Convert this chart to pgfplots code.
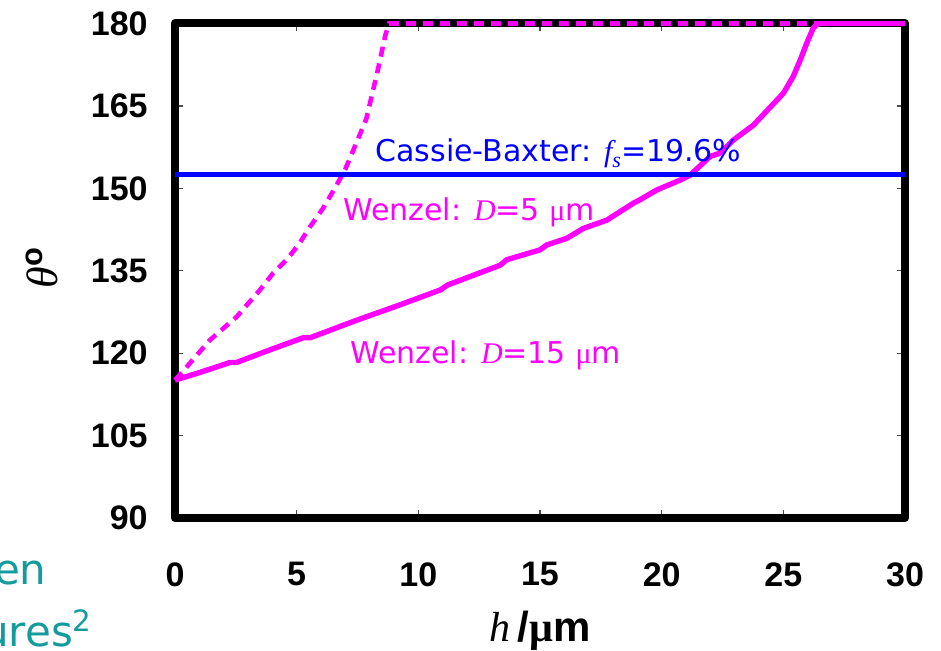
\documentclass[border=0pt]{standalone}
\usepackage{pgfplots}
\pgfplotsset{compat=1.18}
\usepackage{fontspec}
\setmainfont{Liberation Sans}
\newfontfamily\verd{DejaVu Sans}
\newfontfamily\tnr{Liberation Serif}
\definecolor{mag}{RGB}{255,0,255}
\definecolor{teal2}{RGB}{20,155,155}
\begin{document}
\begin{tikzpicture}
\useasboundingbox (-87.5pt,-66.5pt) rectangle (383pt,259pt);
\begin{axis}[
  at={(0,0)}, anchor=south west,
  scale only axis, width=365pt, height=247.25pt,
  xmin=0, xmax=30, ymin=90, ymax=180,
  xtick={0,5,...,30}, ytick={90,105,...,180},
  tick align=inside, major tick length=4pt,
  tick style={black!70, line width=0.6pt},
  axis line style={line width=4pt, black, line join=round},
  clip=false,
  /pgf/number format/assume math mode=true,
  ticklabel style={font=\fontsize{17}{17}\selectfont\bfseries, inner sep=0pt},
  yticklabel style={anchor=east, xshift=-13.5pt},
  xticklabel style={anchor=north, yshift=-22pt},
]
\addplot[mag, line width=2.7pt, line join=round] coordinates {
(0,115.1) (0.89,116.3) (2.26,118.3) (2.53,118.3) (3.9,120.6) (5.27,122.8) (5.55,122.8)
(7.47,126) (9.25,128.8) (10.9,131.5) (11.2,132.4) (13.36,136) (13.63,137) (15.0,138.8)
(15.28,139.7) (16.1,140.9) (16.78,142.7) (17.74,144.2) (18.84,147.3) (19.1,147.9)
(19.8,149.7) (20.76,151.5) (21.17,152.4) (21.99,155.8) (22.4,156.4) (22.95,158.8)
(23.77,161.5) (24.3,164) (25.0,167.3) (25.4,170.3) (25.7,173.4) (25.96,176.4)
(26.23,179.2) (26.43,180) (30,180)
};
\addplot[mag, line width=2.3pt, dash pattern=on 5pt off 3.5pt] coordinates {
(0,115.1) (0.48,117.5) (1.44,122.4) (2.53,126.6) (3.49,131.5) (4.04,134.6) (4.59,137)
(5.07,139.7) (5.55,143) (6.09,146.4) (6.58,150.1) (7.0,153.5) (7.4,157.7) (7.86,162.6)
(8.35,171.8) (8.64,177.8) (8.8,180) (30,180)
};
\addplot[blue, line width=2.2pt] coordinates {(0,152.5) (30,152.5)};
\node[anchor=base west, inner sep=0pt, text=blue, font=\verd\fontsize{15}{15}\selectfont]
  at (axis cs:8.22,154.8) {Cassie-Baxter: {\tnr\itshape f}\raisebox{-0.35ex}{\tnr\itshape\fontsize{11}{11}\selectfont s}=19.6\%};
\node[anchor=base west, inner sep=0pt, text=mag, font=\verd\fontsize{15}{15}\selectfont]
  at (axis cs:6.9,144.2) {Wenzel: {\tnr\itshape D}=5 {\tnr μ}m};
\node[anchor=base west, inner sep=0pt, text=mag, font=\verd\fontsize{15}{15}\selectfont]
  at (axis cs:7.19,118.2) {Wenzel: {\tnr\itshape D}=15 {\tnr μ}m};
\node[anchor=base, inner sep=0pt, font=\fontsize{21}{21}\selectfont]
  at ([yshift=-62pt]rel axis cs:0.5,0) {{\tnr\itshape h}\,{\bfseries /}{\tnr\bfseries μ}{\bfseries m}};
\node[rotate=90, anchor=center, inner sep=0pt, font=\fontsize{22}{22}\selectfont]
  at ([xshift=-66.5pt]rel axis cs:0,0.506) {{\tnr\itshape θ}\textsuperscript{\bfseries o}};
\node[anchor=base east, inner sep=0pt, text=teal2, font=\verd\fontsize{21}{21}\selectfont]
  at ([xshift=-64pt,yshift=-33.5pt]rel axis cs:0,0) {en};
\node[anchor=base east, inner sep=0pt, text=teal2, font=\verd\fontsize{21}{21}\selectfont]
  at ([xshift=-41pt,yshift=-64.5pt]rel axis cs:0,0) {ures\textsuperscript{2}};
\end{axis}
\end{tikzpicture}
\end{document}
